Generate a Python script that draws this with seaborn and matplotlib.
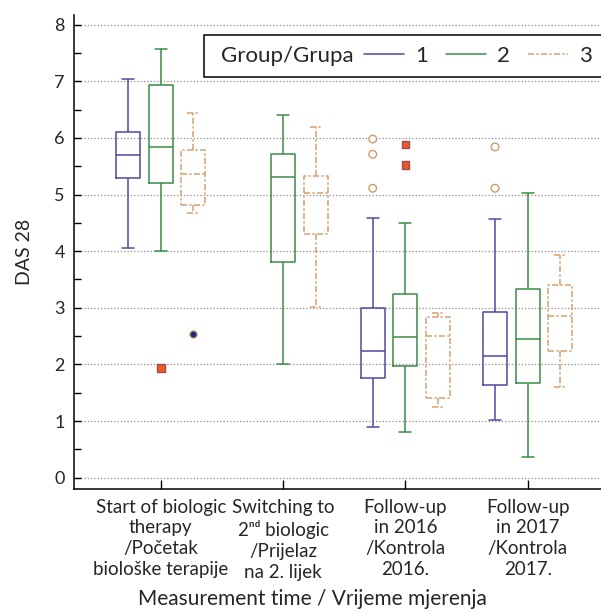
import numpy as np
import pandas as pd
import matplotlib.pyplot as plt
import seaborn as sns
from matplotlib.lines import Line2D
from matplotlib.offsetbox import HPacker, DrawingArea
from matplotlib.ticker import MultipleLocator

# Podaci (procijenjeni sa slike)
time_keys = ["start", "switch", "fu2016", "fu2017"]
time_labels = ["Start of biologic\ntherapy\n/Početak\nbiološke terapije",
               "Switching to\n2ⁿᵈ biologic\n/Prijelaz\nna 2. lijek",
               "Follow-up\nin 2016\n/Kontrola\n2016.",
               "Follow-up\nin 2017\n/Kontrola\n2017."]
groups = ["1", "2", "3"]

# low whisker, Q1, median, Q3, high whisker
g1_stats = [[4.05, 5.29, 5.69, 6.10, 7.04],
            None,
            [0.89, 1.76, 2.24, 2.99, 4.58],
            [1.02, 1.64, 2.14, 2.92, 4.57]]
g2_stats = [[4.01, 5.21, 5.84, 6.93, 7.57],
            [2.01, 3.80, 5.31, 5.71, 6.41],
            [0.81, 1.97, 2.48, 3.24, 4.49],
            [0.36, 1.67, 2.44, 3.34, 5.03]]
g3_stats = [[4.68, 4.81, 5.37, 5.78, 6.44],
            [3.01, 4.31, 5.02, 5.33, 6.20],
            [1.24, 1.40, 2.51, 2.84, 2.90],
            [1.60, 2.24, 2.86, 3.40, 3.94]]

# outliers
g1_out = {"fu2016": [5.98, 5.71, 5.11], "fu2017": [5.84, 5.11]}
g2_out = {"start": [1.93], "fu2016": [5.88, 5.52]}
g3_out = {"start": [2.54]}

colors = {"1": "#4a4aa2", "2": "#3a8a46", "3": "#d4a072"}
styles = {"1": "-", "2": "-", "3": (0, (4, 1.5, 1.5, 1.5))}

rows = []
for g, st in zip(groups, [g1_stats, g2_stats, g3_stats]):
    for t, s in zip(time_keys, st):
        if s is None:
            continue
        for v in s:
            rows.append((t, g, v))
box_df = pd.DataFrame(rows, columns=["time", "group", "das"])

sns.set_theme(style="white")
plt.rcParams["font.family"] = ["Lato", "DejaVu Sans"]

fig, ax = plt.subplots(figsize=(6.01, 6.14), dpi=100)
fig.subplots_adjust(left=0.123, right=1.0, bottom=0.2036, top=0.9756)

for g in groups:
    sub = box_df[box_df["group"] == g]
    ls = styles[g]
    sns.boxplot(data=sub, x="time", y="das", hue="group", order=time_keys,
                hue_order=groups, palette=colors, fill=False, whis=(0, 100),
                dodge=True, width=0.8, gap=0.26, linewidth=1.1, showfliers=False,
                legend=False, ax=ax,
                boxprops=dict(linestyle=ls), whiskerprops=dict(linestyle=ls),
                capprops=dict(linestyle=ls), medianprops=dict(linestyle=ls))

# outlier markers
out_specs = [("1", g1_out, "o", "white", "#d49a68"),
             ("2", g2_out, "s", "#f05a22", "#9a4f50"),
             ("3", g3_out, "o", "#262680", "#e6c27a")]
for g, outs, mk, face, edge in out_specs:
    odf = pd.DataFrame([(t, g, v) for t, vals in outs.items() for v in vals],
                       columns=["time", "group", "das"])
    sns.stripplot(data=odf, x="time", y="das", hue="group", order=time_keys,
                  hue_order=groups, palette={gg: face for gg in groups},
                  dodge=True, jitter=False, marker=mk, size=5.5,
                  edgecolor=edge, linewidth=1, legend=False, ax=ax, zorder=5)

ax.set_xlim(-0.71, 3.6)
ax.set_ylim(-0.2, 8.17)
ax.set_xticks(range(len(time_keys)))
ax.set_xticklabels(time_labels, fontsize=13.5, linespacing=1.27)
ax.yaxis.set_major_locator(MultipleLocator(1))
ax.yaxis.set_minor_locator(MultipleLocator(0.5))
ax.tick_params(axis="y", which="both", direction="in", length=5, width=1,
               left=True, labelsize=13, pad=6.5, color="black")
ax.tick_params(axis="x", direction="in", length=6.5, width=1, bottom=True,
               pad=7, color="black")
ax.grid(axis="y", which="major", linestyle=":", color="#8a8a8a", lw=0.9)
ax.set_axisbelow(True)
for s in ["top", "right"]:
    ax.spines[s].set_visible(False)
for s in ["left", "bottom"]:
    ax.spines[s].set_color("black")
    ax.spines[s].set_linewidth(1.1)

ax.set_xlabel("Measurement time / Vrijeme mjerenja", fontsize=15)
ax.xaxis.set_label_coords(0.452, -0.212)
ax.xaxis.label.set_va("top")
ax.set_ylabel("DAS 28", fontsize=14)
ax.yaxis.set_label_coords(-0.078, 0.5)

handles = [Line2D([], [], color=colors[g], lw=1.1, linestyle=styles[g]) for g in groups]
leg = ax.legend(handles, groups, title="Group/Grupa", ncol=3, fontsize=16,
                title_fontsize=16, loc="upper left",
                bbox_to_anchor=(204 / 601, 1 - 35 / 614),
                bbox_transform=fig.transFigure, borderaxespad=0,
                handlelength=1.8, handletextpad=0.5, columnspacing=0.8,
                frameon=True, fancybox=False, framealpha=1)
leg.get_frame().set_edgecolor("black")
leg.get_frame().set_linewidth(1.1)
# naslov legende lijevo od stavki, okvir izlazi preko desnog ruba
fs = leg._fontsize
title_part = HPacker(pad=0, sep=0, children=[DrawingArea(4, 1), leg._legend_title_box])
items_part = HPacker(pad=0, sep=0, children=[leg._legend_handle_box, DrawingArea(20, 1)])
leg._legend_box = HPacker(pad=0.5 * fs, sep=0.5 * fs, align="center",
                          children=[title_part, items_part])
leg._legend_box.set_figure(fig)
leg._legend_box.axes = ax
leg._legend_box.set_offset(leg._findoffset)

fig.savefig("out.png", dpi=100)
